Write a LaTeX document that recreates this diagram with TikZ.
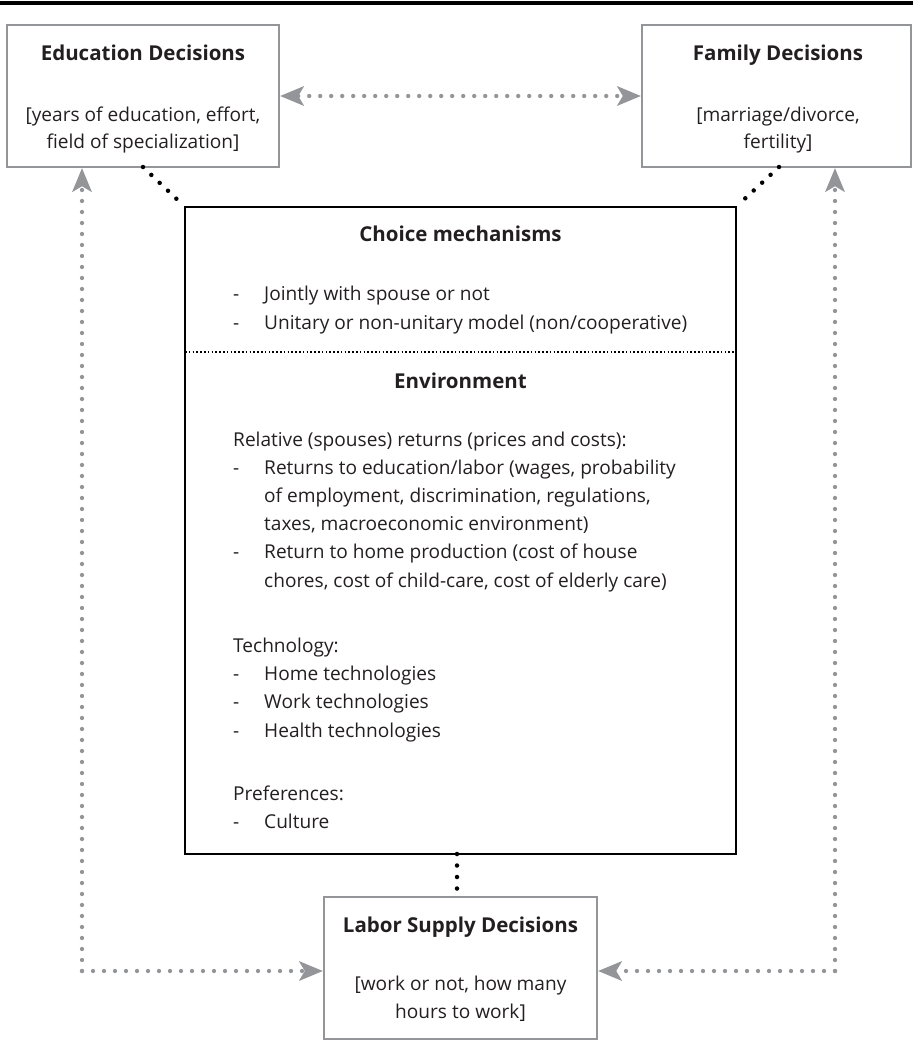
\documentclass[tikz,border=0pt]{standalone}
\usepackage{fontspec}
\setmainfont{Open Sans}
\usetikzlibrary{arrows.meta}
\definecolor{lg}{HTML}{939598}
\definecolor{tx}{HTML}{231F20}
\begin{document}
\begin{tikzpicture}[x=1pt,y=-1pt,
  gbox/.style={draw=lg, line width=2.4pt, inner sep=0pt},
  cbox/.style={draw=black, line width=2.4pt, inner sep=0pt},
  ttl/.style={font=\fontsize{20.5}{24}\bfseries\selectfont, text=tx, anchor=base, inner sep=0pt},
  txt/.style={font=\fontsize{19.1}{23}\selectfont, text=tx, anchor=base, inner sep=0pt},
  ltxt/.style={txt, anchor=base west},
  gtip/.style={},
  garrow/.style={draw=lg, line width=4.3pt, line cap=round, dash pattern=on 0pt off 11pt,
     -{Stealth[length=24pt,width=20pt,inset=6pt,line width=0pt,fill=lg]}},
  gdarrow/.style={garrow, {Stealth[length=24pt,width=20pt,inset=6pt,line width=0pt,fill=lg]}-{Stealth[length=24pt,width=20pt,inset=6pt,line width=0pt,fill=lg]}},
  bdots/.style={draw=black, line width=4.5pt, line cap=round, dash pattern=on 0pt off 11.5pt},
  sepline/.style={draw=black, line width=1.5pt, dash pattern=on 1.5pt off 2.3pt}
]
\useasboundingbox (0,0) rectangle (913,1057);
\draw[line width=4pt] (0,3) -- (913,3);

% boxes
\node[gbox, minimum width=272pt, minimum height=142pt] (edu) at (143,96) {};
\node[gbox, minimum width=269pt, minimum height=142pt] (fam) at (776.5,96) {};
\node[gbox, minimum width=273pt, minimum height=142pt] (lab) at (460.5,968) {};
\node[cbox, minimum width=551pt, minimum height=647pt] (cen) at (460.5,530.5) {};

% box texts
\node[ttl] (eduT) at (143,61) {Education Decisions};
\node[txt] (eduA) at (143,121) {[years of education, effort,};
\node[txt] (eduB) at (143,148.5) {field of specialization]};
\node[ttl] (famT) at (778,61) {Family Decisions};
\node[txt] (famA) at (778,121) {[marriage/divorce,};
\node[txt] (famB) at (778,148.5) {fertility]};
\node[ttl] (labT) at (460.5,932) {Labor Supply Decisions};
\node[txt] (labA) at (460.5,990) {[work or not, how many};
\node[txt] (labB) at (460.5,1018) {hours to work]};

% central texts
\node[ttl] (choT) at (460.5,241) {Choice mechanisms};
\node[ltxt] (d1) at (233,300) {-};
\node[ltxt] (c1) at (264,300) {Jointly with spouse or not};
\node[ltxt] (d2) at (233,329) {-};
\node[ltxt] (c2) at (264,329) {Unitary or non-unitary model (non/cooperative)};
\coordinate (sepL) at (185,352);
\coordinate (sepR) at (736,352);
\draw[sepline] (sepL) -- (sepR);
\node[ttl] (envT) at (460.5,388) {Environment};
\node[ltxt] (e0) at (233,446) {Relative (spouses) returns (prices and costs):};
\node[ltxt] (d3) at (233,474) {-};
\node[ltxt] (e1) at (264,474) {Returns to education/labor (wages, probability};
\node[ltxt] (e2) at (264,502) {of employment, discrimination, regulations,};
\node[ltxt] (e3) at (264,530) {taxes, macroeconomic environment)};
\node[ltxt] (d4) at (233,558) {-};
\node[ltxt] (e4) at (264,558) {Return to home production (cost of house};
\node[ltxt] (e5) at (264,587) {chores, cost of child-care, cost of elderly care)};
\node[ltxt] (t0) at (233,652) {Technology:};
\node[ltxt] (d5) at (233,680) {-};
\node[ltxt] (t1) at (264,680) {Home technologies};
\node[ltxt] (d6) at (233,708) {-};
\node[ltxt] (t2) at (264,708) {Work technologies};
\node[ltxt] (d7) at (233,737) {-};
\node[ltxt] (t3) at (264,737) {Health technologies};
\node[ltxt] (p0) at (233,800) {Preferences:};
\node[ltxt] (d8) at (233,828) {-};
\node[ltxt] (p1) at (264,828) {Culture};

% black dotted connectors
\coordinate (eduD) at (143,167);
\coordinate (famD) at (779,167);
\coordinate (cenD) at (457,854);
\coordinate (labD) at (457,897);
\draw[bdots] (eduD) -- (cen.north west);
\draw[bdots] (famD) -- (cen.north east);
\draw[bdots] (cenD) -- (labD);

% gray arrows
\draw[gdarrow] (edu.east) -- (fam.west);
\coordinate (cl) at (82,971);
\coordinate (cr) at (835,971);
\draw[garrow] (cl) -- (cl |- edu.south);
\draw[garrow] (cl) -- (cl -| lab.west);
\draw[garrow] (cr) -- (cr |- fam.south);
\draw[garrow] (cr) -- (cr -| lab.east);
\end{tikzpicture}
\end{document}
